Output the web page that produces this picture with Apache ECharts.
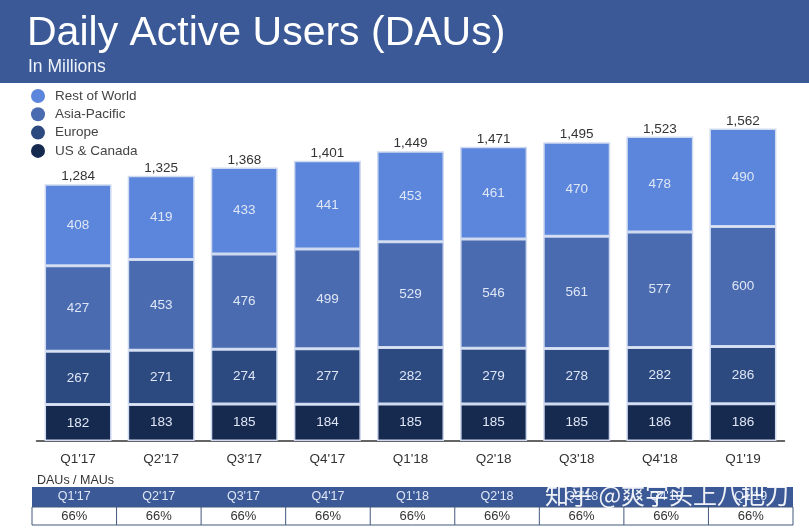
<!DOCTYPE html>
<html>
<head>
<meta charset="utf-8">
<style>
html, body { margin: 0; padding: 0; background: #fff; }
#chart { width: 809px; height: 529px; }
</style>
<script src="https://cdn.jsdelivr.net/npm/echarts@6/dist/echarts.min.js"></script>
</head>
<body>
<div id="chart"></div>
<script>
var quarters = ["Q1'17", "Q2'17", "Q3'17", "Q4'17", "Q1'18", "Q2'18", "Q3'18", "Q4'18", "Q1'19"];
var usCanada = [182, 183, 185, 184, 185, 185, 185, 186, 186];
var europe = [267, 271, 274, 277, 282, 279, 278, 282, 286];
var asiaPacific = [427, 453, 476, 499, 529, 546, 561, 577, 600];
var restOfWorld = [408, 419, 433, 441, 453, 461, 470, 478, 490];
var totals = [1284, 1325, 1368, 1401, 1449, 1471, 1495, 1523, 1562];
var dauMau = ["66%", "66%", "66%", "66%", "66%", "66%", "66%", "66%", "66%"];

var FONT = '"Liberation Sans", Arial, sans-serif';
var BLUE = '#3b5997';

function stackSeries(name, values, color) {
	return {
		name : name,
		type : 'bar',
		stack : 'dau',
		barWidth : 67,
		data : values,
		itemStyle : {
			color : color,
			borderColor : '#cfdaf0',
			borderWidth : 1.5
		},
		label : {
			show : true,
			position : 'inside',
			color : '#dfe6f5',
			fontFamily : FONT,
			fontSize : 13.5
		}
	};
}

// 表格和标题用 graphic 画
var graphics = [
	{ type : 'rect', shape : { x : 0, y : 0, width : 809, height : 83 }, style : { fill : BLUE } },
	{ type : 'text', x : 27, y : 13, style : { text : 'Daily Active Users (DAUs)', fill : '#fff', font : '41px ' + FONT } },
	{ type : 'text', x : 28, y : 58, style : { text : 'In Millions', fill : '#eef2fa', font : '17.5px ' + FONT } },
	{ type : 'text', x : 37, y : 474, style : { text : 'DAUs / MAUs', fill : '#333', font : '12.5px ' + FONT } },
	{ type : 'rect', shape : { x : 32, y : 487, width : 761, height : 20 }, style : { fill : BLUE } },
	{ type : 'rect', shape : { x : 32, y : 507, width : 761, height : 18 }, style : { fill : '#fff', stroke : '#44597f', lineWidth : 1 } }
];
var colW = 761 / quarters.length;
for (var i = 0; i < quarters.length; i++) {
	var cx = 32 + colW * (i + 0.5);
	graphics.push({ type : 'text', x : cx, y : 490, style : { text : quarters[i], fill : '#dfe6f5', font : '12.5px ' + FONT, textAlign : 'center' } });
	graphics.push({ type : 'text', x : cx, y : 510, style : { text : dauMau[i], fill : '#333', font : '13px ' + FONT, textAlign : 'center' } });
	if (i > 0) {
		graphics.push({ type : 'line', shape : { x1 : 32 + colW * i, y1 : 507, x2 : 32 + colW * i, y2 : 525 }, style : { stroke : '#44597f', lineWidth : 1 } });
	}
}
graphics.push({
	type : 'text', x : 545, y : 483, z : 100,
	style : { text : '知乎 @爽字头上八把刀', fill : 'rgba(255,255,255,0.92)', font : '24px "Noto Sans CJK SC"', shadowColor : 'rgba(0,0,0,0.35)', shadowBlur : 2 }
});

var chart = echarts.init(document.getElementById('chart'));
chart.setOption({
	animation : false,
	backgroundColor : '#fff',
	textStyle : { fontFamily : FONT },
	legend : {
		orient : 'vertical',
		left : 31,
		top : 89,
		padding : 0,
		itemWidth : 14,
		itemHeight : 14,
		itemGap : 4.3,
		icon : 'circle',
		itemStyle : { borderWidth : 0 },
		textStyle : { color : '#444', fontFamily : FONT, fontSize : 13.5, padding : [ 0, 0, 0, 5 ] },
		data : [ 'Rest of World', 'Asia-Pacific', 'Europe', 'US & Canada' ]
	},
	grid : { left : 36.5, right : 24.5, top : 89, bottom : 88 },
	xAxis : {
		type : 'category',
		data : quarters,
		axisTick : { show : false },
		axisLine : { lineStyle : { color : '#333', width : 1.5 } },
		axisLabel : { color : '#333', fontFamily : FONT, fontSize : 13.5, margin : 11 }
	},
	yAxis : { type : 'value', min : 0, max : 1760, show : false },
	series : [
		stackSeries('US & Canada', usCanada, '#16294f'),
		stackSeries('Europe', europe, '#2c4a80'),
		stackSeries('Asia-Pacific', asiaPacific, '#4a6bb0'),
		stackSeries('Rest of World', restOfWorld, '#5b86dc'),
		{
			name : 'Total',
			type : 'line',
			data : totals,
			symbol : 'circle',
			symbolSize : 1,
			itemStyle : { color : 'transparent' },
			lineStyle : { opacity : 0 },
			label : {
				show : true,
				position : 'top',
				distance : 0,
				color : '#333',
				fontFamily : FONT,
				fontSize : 13.5,
				formatter : function(p) {
					return echarts.format.addCommas(p.value);
				}
			}
		}
	],
	graphic : graphics
});
</script>
</body>
</html>
